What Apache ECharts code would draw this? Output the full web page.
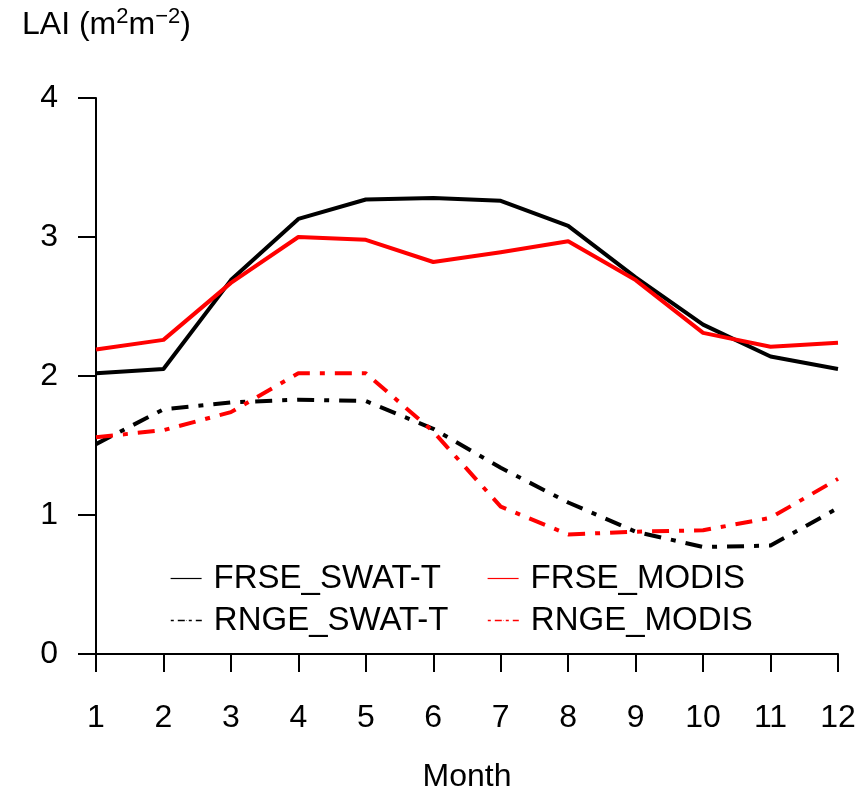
<!DOCTYPE html>
<html>
<head>
<meta charset="utf-8">
<title>LAI by month</title>
<script src="https://cdn.jsdelivr.net/npm/echarts@6/dist/echarts.min.js"></script>
<style>
  html, body { margin: 0; padding: 0; background: #ffffff; }
  #chart { width: 868px; height: 792px; }
</style>
</head>
<body>
<div id="chart"></div>
<script>
const months = [1, 2, 3, 4, 5, 6, 7, 8, 9, 10, 11, 12]
const yTicks = [0, 1, 2, 3, 4]

const frseSwat = [2.02, 2.05, 2.69, 3.13, 3.27, 3.28, 3.26, 3.08, 2.71, 2.37, 2.14, 2.05]
const frseModis = [2.19, 2.26, 2.67, 3.00, 2.98, 2.82, 2.89, 2.97, 2.69, 2.31, 2.21, 2.24]
const rngeSwat = [1.51, 1.76, 1.81, 1.83, 1.82, 1.62, 1.34, 1.09, 0.88, 0.77, 0.78, 1.05]
const rngeModis = [1.56, 1.61, 1.74, 2.02, 2.02, 1.60, 1.06, 0.86, 0.88, 0.89, 0.98, 1.26]

const FONT = "'Liberation Sans', Arial, sans-serif"
const dotDash = [17, 10, 5, 10]

function pairs(values) {
  return months.map((m, i) => [m, values[i]])
}

function lineSeries(name, values, color, type) {
  return {
    name: name,
    type: 'line',
    color: color,
    data: pairs(values),
    symbol: 'none',
    lineStyle: { color: color, width: 4, type: type, cap: 'butt', join: 'round' },
    itemStyle: { color: color }
  }
}

// one legend block per entry, so the two columns line up like R's legend()
// itemHeight 1 shrinks the legend marker to nothing, leaving only the line
function legendItem(name, color, left, top, dashed) {
  return {
    left: left,
    top: top,
    padding: 0,
    itemWidth: 31,
    itemHeight: 1,
    lineStyle: { color: color, width: dashed ? 1.6 : 1.2, type: dashed ? [3, 4, 7, 4] : 'solid' },
    textStyle: { fontFamily: FONT, fontSize: 33, color: '#000', padding: [0, 0, 0, 7] },
    data: [{ name: name }]
  }
}

const chart = echarts.init(document.getElementById('chart'))

const option = {
  animation: false,
  backgroundColor: '#ffffff',
  title: {
    text: '{a|LAI (m}{s|2}{a|m}{s|\u22122}{a|)}',
    left: 22,
    top: 6,
    padding: 0,
    textStyle: {
      fontWeight: 'normal',
      rich: {
        a: { fontFamily: FONT, fontSize: 32, fontWeight: 'normal', color: '#000' },
        s: { fontFamily: FONT, fontSize: 22, fontWeight: 'normal', color: '#000', padding: [0, 0, 16, 0] }
      }
    }
  },
  legend: [
    legendItem('FRSE_SWAT-T', '#000000', 170, 562, false),
    legendItem('FRSE_MODIS', '#ff0000', 487, 562, false),
    legendItem('RNGE_SWAT-T', '#000000', 170, 604, true),
    legendItem('RNGE_MODIS', '#ff0000', 487, 604, true)
  ],
  grid: { left: 96, right: 30, top: 98, bottom: 138, outerBoundsMode: 'none' },
  xAxis: {
    type: 'value',
    min: months[0],
    max: months[months.length - 1],
    interval: 1,
    name: 'Month',
    nameLocation: 'middle',
    nameGap: 107,
    nameTextStyle: { fontFamily: FONT, fontSize: 32, color: '#000' },
    axisLine: { lineStyle: { color: '#000', width: 2 } },
    axisTick: { length: 18, lineStyle: { color: '#000', width: 2 } },
    axisLabel: { fontFamily: FONT, fontSize: 32, color: '#000', margin: 48 },
    splitLine: { show: false }
  },
  yAxis: {
    type: 'value',
    min: yTicks[0],
    max: yTicks[yTicks.length - 1],
    interval: 1,
    axisLine: { show: true, lineStyle: { color: '#000', width: 2 } },
    axisTick: { show: true, length: 18, lineStyle: { color: '#000', width: 2 } },
    axisLabel: { fontFamily: FONT, fontSize: 32, color: '#000', margin: 38 },
    splitLine: { show: false }
  },
  series: [
    lineSeries('FRSE_SWAT-T', frseSwat, '#000000', 'solid'),
    lineSeries('FRSE_MODIS', frseModis, '#ff0000', 'solid'),
    lineSeries('RNGE_SWAT-T', rngeSwat, '#000000', dotDash),
    lineSeries('RNGE_MODIS', rngeModis, '#ff0000', dotDash)
  ]
}

chart.setOption(option)
</script>
</body>
</html>
